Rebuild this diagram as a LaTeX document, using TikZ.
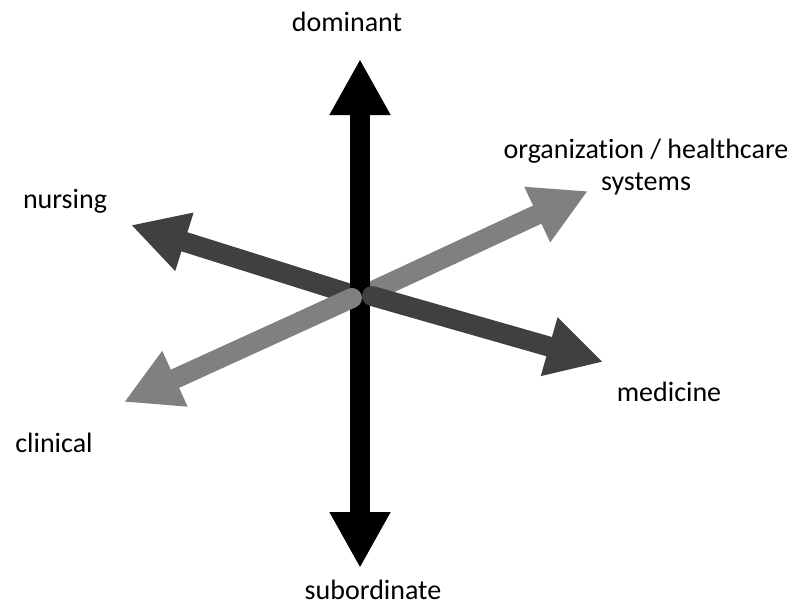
\documentclass[tikz,border=0pt]{standalone}
\usepackage{fontspec}
\setmainfont{Carlito}[Ligatures=NoCommon]
\usetikzlibrary{arrows.meta}
\definecolor{darkbar}{gray}{0.25}
\definecolor{lightbar}{gray}{0.5}

\begin{document}
\begin{tikzpicture}[x=1pt,y=-1pt,
    bar/.style={line width=20pt,-{Triangle[length=56pt,width=57pt]}},
    axislabel/.style={font=\fontsize{28}{32}\selectfont,anchor=base,inner sep=0pt}]
\useasboundingbox (0,0) rectangle (799,605);

\coordinate (c) at (360,297);
\coordinate (dom) at (360,59);
\coordinate (sub) at (360,568);
\coordinate (nur) at (131,225);
\coordinate (org) at (588,191);
\coordinate (cli) at (124,402);
\coordinate (med) at (603,362);
\coordinate (clistart) at (352,298);
\coordinate (medstart) at (372,296);

% arrows behind the vertical axis
\draw[bar,darkbar] (c) -- (nur);
\draw[bar,lightbar] (c) -- (org);

\draw[bar,black,{Triangle[length=56pt,width=57pt]}-{Triangle[length=56pt,width=57pt]}] (sub) -- (dom);

% arrows in front, with round ends
\draw[bar,lightbar,line cap=round] (clistart) -- (cli);
\draw[bar,darkbar,line cap=round] (medstart) -- (med);

\node[axislabel] (dominant) at (347,31) {dominant};
\node[axislabel,text depth=0pt] (subordinate) at (373,599) {subordinate};
\node[axislabel] (nursing) at (65,208) {nursing};
\node[axislabel] (clinical) at (54,452) {clinical};
\node[axislabel] (medicine) at (669,401) {medicine};
\node[axislabel,align=center] (organization) at (646,190) {organization / healthcare\\systems};
\end{tikzpicture}
\end{document}
